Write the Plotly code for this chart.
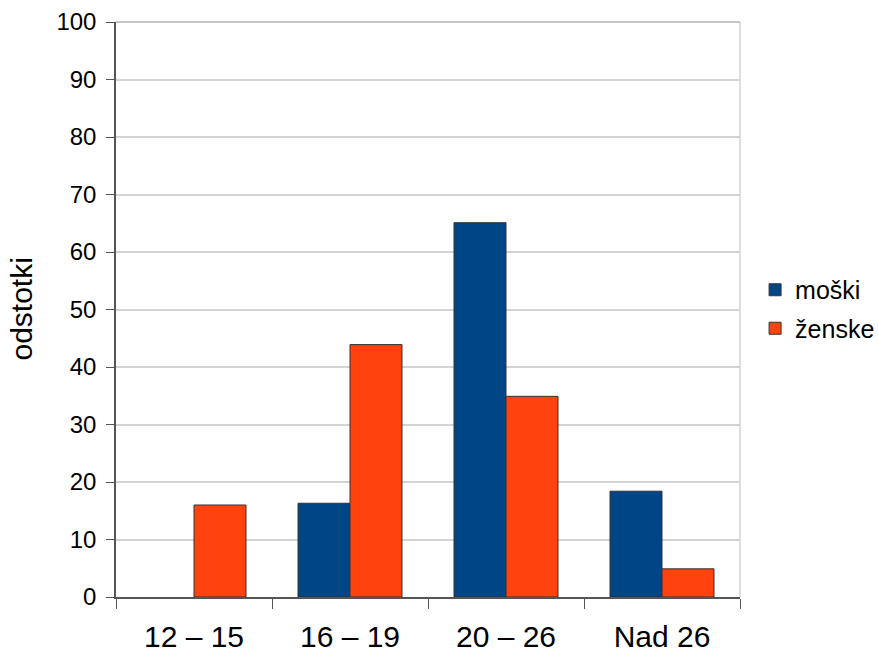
import plotly.graph_objects as go

categories = ["12 – 15", "16 – 19", "20 – 26", "Nad 26"]
moski = [None, 16.3, 65.1, 18.4]
zenske = [16.0, 43.9, 34.9, 4.9]
series_names = ["moški", "ženske"]
y_title = "odstotki"

FONT = "Liberation Sans, Arial, sans-serif"

fig = go.Figure()
fig.add_trace(go.Bar(x=categories, y=moski, name=series_names[0], legendgroup="a",
                     marker=dict(color="#004586", line=dict(color="#333333", width=1))))
fig.add_trace(go.Bar(x=categories, y=zenske, name=series_names[1], legendgroup="b",
                     marker=dict(color="#ff420e", line=dict(color="#333333", width=1))))

fig.update_layout(
    width=878, height=657,
    margin=dict(l=116, r=138, t=22, b=60),
    paper_bgcolor="white", plot_bgcolor="white",
    barmode="group", bargap=1/3, bargroupgap=0,
    font=dict(family=FONT, color="black"),
    showlegend=True,
    legend=dict(xref="container", yref="container", x=0.86, y=0.5297,
                xanchor="left", yanchor="middle",
                traceorder="grouped", tracegroupgap=3,
                font=dict(size=25, family=FONT), itemwidth=30,
                bgcolor="rgba(0,0,0,0)"),
    xaxis=dict(
        automargin=False,
        showline=True, linecolor="#555555", linewidth=1.5,
        ticks="outside", tickson="boundaries", ticklen=10, tickcolor="#555555",
        tickfont=dict(size=30, family=FONT), ticklabelstandoff=12,
        showgrid=False,
    ),
    yaxis=dict(
        automargin=False,
        range=[0, 100], dtick=10,
        showline=True, linecolor="#555555", linewidth=1.5,
        ticks="outside", ticklen=8, tickcolor="#555555",
        tickfont=dict(size=24, family=FONT), ticklabelstandoff=5,
        showgrid=True, gridcolor="#d3d3d3", gridwidth=1.5,
        zeroline=False,
    ),
    annotations=[dict(text=y_title, xref="paper", yref="paper", x=-0.1522, y=0.5,
                      xanchor="center", yanchor="middle", textangle=-90,
                      showarrow=False, font=dict(size=30, family=FONT))],
    shapes=[
        dict(type="line", xref="paper", yref="paper", x0=1, x1=1, y0=0, y1=1,
             line=dict(color="#d3d3d3", width=1.5)),
        dict(type="line", xref="paper", yref="paper", x0=0, x1=1, y0=1, y1=1,
             line=dict(color="#b3b3b3", width=1.5)),
    ],
)

fig.write_html("out.html", config={"displayModeBar": False},
               post_script="document.body.style.margin='0';document.body.style.overflow='hidden';")
